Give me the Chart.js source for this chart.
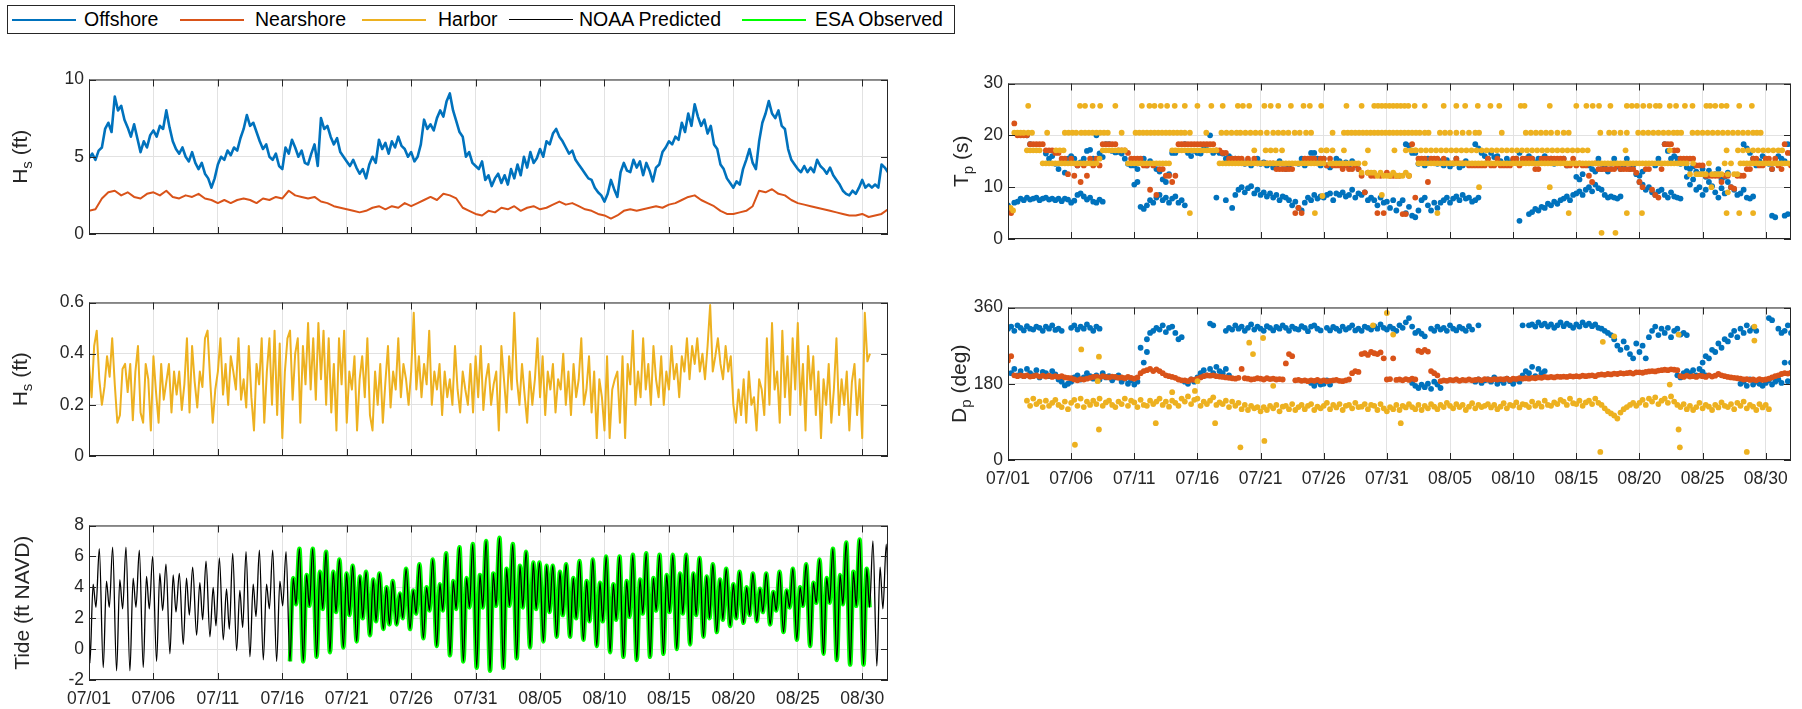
<!DOCTYPE html>
<html>
<head>
<meta charset="utf-8">
<title>Wave and tide record</title>
<script src="https://cdn.jsdelivr.net/npm/chart.js@4.4.1/dist/chart.umd.min.js"></script>
<style>
  html, body { margin: 0; padding: 0; background: #fff; }
  body { width: 1802px; height: 709px; position: relative; overflow: hidden; font-family: "Liberation Sans", Arial, sans-serif; }
  canvas { position: absolute; }
  #legend-box { position: absolute; left: 7px; top: 5px; width: 948px; height: 29px; border: 1px solid #262626; box-sizing: border-box; }
  .lg-line { position: absolute; top: 19px; width: 64px; height: 0; }
  .lg-text { position: absolute; top: 8px; font-size: 19.5px; line-height: 22px; color: #000; white-space: nowrap; }
</style>
</head>
<body>
<div id="legend-box"></div>
<div class="lg-line" style="left:12px;border-top:2px solid #0072BD"></div><div class="lg-text" style="left:84px">Offshore</div>
<div class="lg-line" style="left:180px;border-top:2px solid #D95319"></div><div class="lg-text" style="left:255px">Nearshore</div>
<div class="lg-line" style="left:362px;border-top:2px solid #EDB120"></div><div class="lg-text" style="left:438px">Harbor</div>
<div class="lg-line" style="left:509px;border-top:1px solid #000"></div><div class="lg-text" style="left:579px">NOAA Predicted</div>
<div class="lg-line" style="left:742px;border-top:2px solid #00FF00"></div><div class="lg-text" style="left:815px">ESA Observed</div>

<canvas id="hsChart"></canvas>
<canvas id="harborChart"></canvas>
<canvas id="tideChart"></canvas>
<canvas id="tpChart"></canvas>
<canvas id="dpChart"></canvas>

<script>
// ---- time axis (days since 07/01 00:00) ----
const dayMax = 62;
const tickDays = [0, 5, 10, 15, 20, 25, 30, 35, 40, 45, 50, 55, 60];
const tickLabels = ["07/01","07/06","07/11","07/16","07/21","07/26","07/31","08/05","08/10","08/15","08/20","08/25","08/30"];

// ---- significant wave height (ft) ----
const hsStep = 0.25;
const offshoreHs = [4.9,5.2,4.8,5.4, 5.6,6.8,7.2,6.6, 8.9,8.0,8.3,7.4, 6.9,6.3,7.1,6.2, 5.3,6.0,5.6,6.4,
  6.7,6.3,7.0,6.8, 8.0,6.9,6.0,5.5, 5.2,5.6,5.0,4.7, 5.3,4.6,4.2,4.6, 3.9,3.6,3.0,3.6,
  4.5,5.0,4.8,5.4, 5.1,5.6,5.4,6.2, 6.8,7.7,7.0,7.2, 6.6,6.0,5.5,5.8, 5.0,4.8,5.2,4.4,
  4.2,5.6,5.2,6.1, 5.6,5.0,5.4,4.6, 4.5,5.2,5.8,4.4, 7.5,6.8,7.0,6.3, 5.8,6.2,5.3,5.0,
  4.7,4.4,4.8,4.3, 3.9,4.2,3.6,4.5, 5.0,4.6,6.1,5.5, 5.9,5.2,6.0,5.6, 6.3,5.7,5.5,5.0,
  5.3,4.7,5.0,5.8, 7.4,6.8,7.1,6.7, 7.5,8.0,7.6,8.6, 9.1,8.0,7.3,6.6, 6.3,5.0,5.3,4.6,
  4.4,4.2,4.7,3.5, 3.8,3.1,3.6,3.9, 3.3,3.8,3.2,4.2, 3.6,4.5,3.8,5.0, 4.3,5.3,4.6,4.9,
  5.5,5.0,6.0,5.8, 6.5,6.8,6.3,6.0, 5.6,5.2,5.4,4.8, 4.5,4.2,3.9,3.6, 3.5,3.0,2.7,2.5,
  2.1,2.6,3.5,2.9, 2.4,4.0,4.6,4.1, 4.0,4.8,4.3,4.7, 3.8,4.6,4.1,3.4, 4.3,4.5,5.3,5.6,
  6.0,5.8,6.3,6.1, 7.2,6.6,7.8,7.0, 8.4,7.6,7.0,7.4, 6.5,7.0,5.8,5.5, 4.5,4.2,3.6,3.3,
  3.0,3.4,3.2,4.2, 4.8,5.5,4.6,4.2, 6.0,7.2,7.8,8.6, 7.8,7.5,8.0,7.0, 6.8,5.5,4.8,4.5,
  4.2,4.0,4.4,4.0, 4.3,4.0,4.8,4.4, 4.2,3.9,4.3,3.8, 3.5,3.2,2.8,2.6, 2.5,2.8,2.6,3.0,
  3.5,3.0,3.2,3.0, 3.2,3.0,4.5,4.3, 4.0];

const nearStep = 0.5;
const nearshoreHs = [1.5,1.6, 2.3,2.7, 2.8,2.5, 2.7,2.4, 2.3,2.6, 2.7,2.5, 2.8,2.4, 2.3,2.5, 2.4,2.6, 2.3,2.2,
  2.0,2.2, 2.0,2.2, 2.3,2.2, 2.0,2.3, 2.2,2.4, 2.3,2.8, 2.5,2.4, 2.3,2.4, 2.1,2.0, 1.8,1.7,
  1.6,1.5, 1.4,1.5, 1.7,1.8, 1.6,1.8, 1.7,2.0, 1.8,2.0, 2.2,2.4, 2.2,2.6, 2.5,2.3, 1.7,1.5,
  1.3,1.2, 1.5,1.4, 1.7,1.6, 1.8,1.5, 1.7,1.8, 1.6,1.7, 1.9,2.1, 1.9,2.0, 1.8,1.6, 1.5,1.3,
  1.2,1.0, 1.2,1.5, 1.6,1.5, 1.6,1.7, 1.8,1.7, 1.9,2.0, 2.2,2.4, 2.5,2.2, 2.0,1.8, 1.5,1.3,
  1.3,1.4, 1.5,1.8, 2.8,2.7, 2.9,2.6, 2.5,2.2, 2.0,1.9, 1.8,1.7, 1.6,1.5, 1.4,1.3, 1.2,1.2,
  1.3,1.1, 1.2,1.3, 1.6];

const harborStep = 0.2;
const harborHs = [.36,.23,.43,.49,.30, .20,.27,.39,.31,.46, .28,.13,.16,.34,.36, .25,.36,.14,.33,.43, .17,.13,.36,.30,.10,
  .39,.25,.13,.36,.22, .29,.36,.17,.33,.24, .33,.18,.28,.46,.17, .43,.29,.19,.33,.27, .46,.49,.30,.13,.26,
  .33,.46,.24,.36,.20, .39,.33,.26,.46,.22, .30,.19,.43,.23,.10, .36,.28,.46,.13,.33, .46,.20,.49,.16,.44,
  .07,.33,.46,.49,.22, .40,.46,.13,.43,.28, .52,.26,.46,.22,.52, .30,.49,.20,.46,.17, .36,.10,.46,.28,.49,
  .13,.33,.26,.39,.10, .30,.39,.23,.46,.16, .10,.33,.20,.36,.13, .29,.43,.19,.33,.26, .46,.23,.36,.30,.20,
  .33,.56,.26,.39,.23, .36,.28,.49,.20,.33, .26,.36,.16,.33,.23, .30,.20,.43,.26,.17, .33,.26,.20,.36,.17,
  .39,.23,.43,.18,.30, .36,.20,.28,.33,.10, .43,.30,.17,.39,.26, .56,.30,.20,.36,.24, .13,.33,.20,.30,.46,
  .23,.39,.16,.33,.26, .36,.17,.30,.26,.40, .20,.33,.16,.36,.23, .30,.46,.20,.26,.39, .17,.33,.07,.30,.23,
  .10,.39,.07,.26,.30, .33,.13,.39,.07,.36, .28,.49,.20,.33,.23, .46,.26,.36,.20,.43, .30,.23,.39,.20,.33,
  .26,.43,.30,.36,.23, .39,.33,.46,.30,.43, .36,.46,.33,.40,.30, .43,.59,.33,.39,.46, .36,.30,.43,.33,.39,
  .20,.13,.26,.16,.30, .13,.33,.20,.23,.10, .30,.26,.16,.46,.20, .52,.26,.33,.13,.49, .23,.39,.16,.46,.26,
  .52,.20,.36,.10,.43, .26,.39,.16,.33,.07, .30,.20,.36,.13,.26, .46,.16,.30,.20,.33, .10,.29,.36,.16,.30,
  .07,.56,.37,.40];

// ---- tide (ft NAVD): extremes per tidal day ----
const tidalDay = 1.035;
const tideOffsets = [0.07, 0.32, 0.54, 0.80];   // LL, LH, HL, HH within a tidal day
const tideStart = 2.7;
const tideLL = [-0.9,-1.2,-1.4,-1.4,-1.2,-0.8,-0.3,0.3,0.9,0.8, 0.6,-0.1,-0.5,-0.7,-0.8,-0.8,-0.8,-0.5,-0.2,0.1,
  0.5,0.9,1.3,1.6,1.3,0.7,0.2,-0.4,-0.8,-1.2, -1.4,-1.2,-0.6,0.1,0.5,0.8,0.8,0.6,0.2,-0.2,
  -0.5,-0.7,-0.5,-0.3,0.0,0.3,0.8,1.1,1.5,1.7, 1.8,1.6,1.1,0.6,0.2,-0.3,-0.7,-1.0,-1.0,-1.1, -0.6];
const tideLH = [4.2,4.4,4.5,4.6,4.7,4.9,4.8,4.6,4.3,4.0, 3.9,3.8,4.2,4.2,4.4,4.6,4.8,5.0,5.0,4.9,
  4.7,4.5,4.0,3.6,3.8,4.0,4.2,4.4,4.6,4.8, 4.9,5.2,5.4,5.6,5.4,5.0,4.6,4.4,4.3,4.2,
  4.4,4.5,4.6,4.8,4.9,4.9,4.7,4.5,4.2,4.0, 3.9,3.7,3.8,4.0,4.3,4.6,4.8,5.0,5.2,5.3, 5.4];
const tideHL = [2.7,2.7,2.6,2.7,2.6,2.5,2.4,2.2,1.9,1.5, 1.3,1.4,2.1,2.6,2.8,2.9,2.8,2.6,2.4,2.2,
  2.0,1.8,1.6,2.0,2.3,2.5,2.5,2.6,2.7,2.7, 2.8,2.8,2.7,2.6,2.4,2.2,2.0,1.8,1.8,1.9,
  2.1,2.3,2.5,2.4,2.3,2.2,2.0,1.9,2.0,2.2, 2.4,2.5,2.7,2.8,3.0,3.0,2.9,2.8,2.7,2.6, 2.5];
const tideHH = [6.5,6.6,6.6,6.4,6.0,5.5,4.9,5.3,5.7,5.9, 6.2,6.3,6.4,6.4,6.3,6.5,6.5,6.3,5.8,5.4,
  5.0,4.9,4.4,5.2,5.5,5.8,6.2,6.6,6.8,7.0, 7.2,6.8,6.3,5.6,5.4,5.5,5.7,5.8,6.0,6.0,
  6.1,6.2,6.1,6.1,6.1,5.9,5.5,5.2,5.0,4.9, 4.9,5.0,5.2,5.5,5.8,6.5,6.9,7.1,7.0,6.8, 6.5];
const obsStart = 15.3, obsEnd = 60.75;   // ESA record span

// ---- peak period Tp (s) and direction Dp (deg), 4 per day ----
const scatStep = 0.25;
const offTpSea = [6.5,5.5,7.0,7.2, 7.8,7.5,8.0,7.6, 7.8,8.0,7.5,7.8, 8.0,7.6,7.8,7.5, 7.8,7.3,7.8,7.6,
  7.0,7.4,8.5,8.8, 8.2,7.6,8.0,7.2, 7.0,7.6,7.2,null, null,null,null,null, null,null,null,null,
  10.5,11.0,6.2,5.8, 6.5,7.5,7.0,8.0, 8.5,7.5,8.0,7.0, 7.8,8.2,7.0,7.5, 6.5,null,null,null,
  null,null,null,null, null,null,8.0,null, null,7.5,null,6.0, 8.5,9.5,10.0,9.0, 9.8,10.2,8.8,9.5,
  8.5,9.0,8.2,8.8, 8.0,8.5,7.5,8.2, 8.0,7.5,6.5,7.2, 6.0,5.5,7.0,8.0, 7.5,8.5,7.8,8.2,
  8.0,8.5,8.8,7.5, 8.8,8.5,9.0,8.2, 8.5,9.5,8.0,8.8, 8.5,9.0,7.5,8.0, 7.5,6.5,8.0,7.0,
  7.2,6.0,7.5,5.5, 6.8,7.5,5.0,6.2, 4.5,4.2,5.5,7.5, 8.0,6.5,5.5,7.0, 6.0,7.0,7.5,8.0,
  7.0,7.8,8.2,7.5, 8.5,7.8,8.0,7.2, 7.5,8.0,null,null, null,null,null,null, null,null,null,null,
  null,null,3.5,null, null,4.8,5.2,5.8, 5.5,6.2,6.0,6.8, 6.5,7.2,6.8,7.5, 7.8,8.2,7.5,8.5,
  8.8,9.2,8.5,9.5, 10.0,9.2,10.5,9.8, 9.5,8.5,8.0,8.2, 8.0,7.8,8.2,null, null,null,null,null,
  11.0,10.5,9.5,10.0, 9.0,8.5,9.2,9.5, 8.5,8.0,9.0,8.2, 8.0,7.8,null,12.0, 10.5,11.5,9.5,10.0,
  8.5,9.5,11.0,10.2, 9.0,8.0,9.8,8.8, 11.0,10.0,9.5,8.5, 8.8,9.5,8.0,7.8, 8.2,null,null,null,
  null,null,4.5,4.2, null,null,4.5,4.8, null];
const offTpSwell = [null,null,null,null, null,null,20.0,18.3, null,null,null,null, 16.5,15.5,16.0,14.5, 13.5,14.8,12.8,15.5,
  16.0,15.5,14.2,14.8, 15.5,17.0,17.2,15.5, 20.0,16.5,15.8,18.3, 18.3,17.0,16.7,16.8, 16.5,15.5,14.5,14.2,
  14.2,13.5,14.8,15.5, 14.2,15.0,14.5,13.5, 13.0,11.5,11.0,12.5, 16.6,16.6,null,null, 18.3,16.6,16.0,17.0,
  16.6,16.5,18.0,17.2, 20.0,16.6,17.0,16.6, 16.5,15.5,16.0,15.5, 15.5,14.8,15.2,14.5, 15.0,14.2,14.8,15.5,
  14.5,14.8,14.2,14.5, 13.8,14.2,15.0,14.5, 13.5,14.0,null,null, 14.5,15.5,14.2,15.0, 16.6,16.6,15.5,14.2,
  15.5,14.2,13.8,14.5, 15.5,15.0,14.2,14.8, 14.2,15.0,14.5,13.5, null,null,null,null, null,null,null,null,
  null,null,null,null, null,null,18.3,18.0, 16.6,16.6,14.5,15.0, 14.2,15.5,14.8,15.0, 14.5,15.0,14.2,15.2,
  14.0,14.5,15.5,13.8, 14.2,15.0,null,null, 18.3,17.5,16.6,16.0, 15.5,16.6,15.8,16.0, 15.0,14.5,15.5,14.8,
  15.2,15.5,16.6,15.0, 15.5,16.0,15.5,14.8, 15.5,15.0,16.0,15.2, 15.5,14.5,15.0,null, 15.5,14.2,null,null,
  12.0,11.5,12.5,null, 14.2,13.5,13.0,15.5, 13.5,14.2,13.0,14.5, 15.5,14.0,13.5,14.2, 15.5,13.5,14.2,12.5,
  12.2,13.0,null,null, null,14.2,15.5,null, 18.3,17.0,15.5,16.0, 15.5,14.5,15.0,13.8, 13.5,14.0,13.0,12.5,
  13.5,12.0,13.2,null, 12.5,13.5,11.5,12.0, 12.8,null,null,null, null,18.3,17.5,16.6, 15.5,14.2,15.0,16.0,
  15.5,14.5,13.5,14.8, 16.0,15.5,15.0,18.3, 16.6];
const nearTp = [6.0,5.0,22.3,20.0, 20.0,20.0,20.0,18.3, 18.3,18.3,18.3,18.3, 17.1,17.1,17.1,16.6, 16.6,15.5,15.5,12.5,
  15.5,12.2,14.2,11.0, 14.2,12.2,15.5,14.2, 15.5,14.2,18.3,18.3, 18.3,18.3,18.3,17.1, 17.1,17.1,16.6,15.5,
  15.5,15.5,15.5,14.2, 14.2,9.5,14.2,8.5, 13.5,13.5,12.2,12.2, 11.0,12.2,18.3,18.3, 18.3,18.3,18.3,18.3,
  18.3,18.3,18.3,18.3, 18.3,18.3,17.1,17.1, 16.6,16.6,15.5,15.5, 15.5,15.5,15.5,14.6, 15.5,14.6,15.5,14.6,
  14.6,14.6,14.6,14.6, 14.6,13.5,13.5,13.5, 13.5,13.5,13.5,5.0, 6.0,5.0,15.5,15.5, 15.5,15.5,14.6,15.5,
  15.5,14.2,15.5,14.2, 14.2,14.2,13.5,14.2, 13.5,13.5,14.2,13.5, 12.2,9.0,12.8,12.2, 12.2,5.0,12.2,5.0,
  12.8,12.2,12.2,12.2, 12.2,4.8,4.8,12.2, 18.3,8.0,15.5,15.5, 15.5,11.0,15.5,15.5, 15.5,14.6,15.5,14.6,
  14.6,14.6,15.5,14.6, 14.6,14.6,14.2,14.2, 14.2,14.2,14.2,14.2, 15.5,14.2,14.2,15.5, 14.2,14.2,14.2,14.2,
  15.5,15.5,14.2,15.5, 15.5,15.5,15.5,13.5, 13.5,15.5,15.5,15.5, 15.5,15.5,15.5,15.5, 15.5,14.2,14.2,15.5,
  14.2,14.6,14.2,14.2, 12.2,11.0,14.6,13.5, 13.5,13.5,13.5,13.5, 13.5,14.2,13.5,13.5, 13.5,13.5,13.5,12.8,
  11.0,10.0,13.5,13.5, 9.5,8.5,8.0,13.5, 18.3,18.3,18.3,17.1, 17.1,15.5,15.5,15.5, 15.5,15.5,14.2,14.2,
  14.2,12.2,12.2,12.2, 12.2,12.2,11.0,12.2, 12.2,10.0,9.7,12.2, 12.2,12.2,13.5,13.5, 15.5,15.5,14.2,14.2,
  15.5,15.5,13.5,15.5, 14.2,13.5,18.3,16.6, 14.2];
const harborTp = [null,null,20.5,20.5, 20.5,20.5,17.1,17.1, 17.1,17.1,17.1,14.6, 14.6,14.6,14.6,14.6, 14.6,14.6,14.6,14.6,
  14.6,14.6,14.6,14.6, 14.6,14.6,14.6,14.6, 14.6,15.5,17.1,17.1, 17.1,17.1,17.1,17.1, 17.1,17.1,14.6,14.6,
  14.6,14.6,14.6,14.6, 14.6,14.6,14.6,14.6, 14.6,14.6,14.6,14.6, 17.1,17.1,17.1,17.1, 17.1,17.1,17.1,17.1,
  17.1,17.1,17.1,17.1, 17.1,17.1,17.1,14.6, 14.6,14.6,14.6,14.6, 14.6,14.6,14.6,14.6, 14.6,14.6,14.6,14.6,
  14.6,14.6,14.6,14.6, 14.6,14.6,14.6,14.6, 14.6,14.6,14.6,14.6, 14.6,14.6,14.6,14.6, 14.6,14.6,14.6,14.6,
  14.6,17.1,14.6,14.6, 14.6,14.6,14.6,14.6, 14.6,14.6,14.6,14.6, 12.8,14.6,12.8,12.8, 12.8,12.2,12.8,12.2,
  12.2,12.2,12.8,12.2, 12.2,12.2,12.8,12.2, 17.1,17.1,14.6,14.6, 14.6,14.6,14.6,14.6, 14.6,14.6,14.6,14.6,
  14.6,14.6,14.6,14.6, 14.6,14.6,14.6,14.6, 14.6,14.6,14.6,14.6, 14.6,14.6,14.6,14.6, 14.6,14.6,14.6,14.6,
  14.6,14.6,14.6,14.6, 14.6,14.6,14.6,14.6, 14.6,14.6,14.6,14.6, 14.6,14.6,14.6,14.6, 14.6,14.6,14.6,14.6,
  14.6,14.6,14.6,14.6, 14.6,14.6,14.6,14.6, 14.6,14.6,14.6,14.6, 14.6,14.6,14.6,14.6, 14.6,14.6,14.6,14.6,
  14.6,14.6,14.6,14.6, 14.6,14.6,14.6,14.6, 14.6,14.6,14.6,14.6, 14.6,14.6,14.6,14.6, 12.5,14.6,12.5,12.5,
  12.5,12.5,14.6,12.5, 12.5,12.5,12.5,14.6, 12.5,14.6,12.5,12.5, 14.6,14.6,14.6,14.6, 14.6,14.6,14.6,14.6,
  14.6,14.6,14.6,14.6, 14.6,14.6,14.6,14.6, 14.6];
// harbor Tp rows at fixed bins: days where a dot sits on each level
const harborTpLevels = [25.7, 20.5, 17.1];
const harborTpRow26 = [1.6,5.7,6.1,6.7,7.3,8.5,10.6,11.2,11.6,12.1,12.6,13.2,14.0,15.0,16.1,17.0,18.2,18.6,19.1,20.3,20.8,21.4,
  22.4,23.4,23.9,24.8,26.8,28.0,29.0,29.3,29.6,29.9,30.2,30.5,30.8,31.1,31.4,31.7,32.2,33.0,34.5,35.5,36.2,37.2,38.2,38.9,
  40.6,40.9,42.9,45.0,45.8,46.3,46.8,47.7,49.0,49.4,49.8,50.3,50.8,51.3,51.6,52.4,52.9,53.6,54.2,55.3,55.6,56.0,56.5,56.9,57.9,58.9];
const harborTpRow20 = [1.6,1.9,3.1,4.5,4.8,5.1,5.4,5.8,6.1,6.4,6.7,7.0,7.3,7.6,7.9,9.0,10.1,10.4,10.7,11.0,11.3,11.6,11.9,12.2,
  12.5,12.8,13.1,13.4,13.7,14.0,14.4,15.7,16.9,17.3,17.7,18.1,18.4,18.8,19.2,19.6,20.0,20.5,21.0,21.4,21.8,22.2,22.7,23.1,
  23.6,24.0,25.7,26.6,26.9,27.2,27.5,27.8,28.1,28.4,28.7,29.0,29.3,29.6,29.9,30.2,30.5,30.8,31.1,31.4,31.7,32.0,32.3,32.6,
  33.0,33.3,34.2,34.6,35.0,35.5,36.0,36.5,37.0,37.3,39.1,41.0,41.4,41.8,42.2,42.6,43.0,43.5,44.0,44.4,46.9,47.6,48.0,48.5,
  49.0,49.9,50.3,50.7,51.1,51.5,51.9,52.3,52.7,53.0,53.3,54.2,54.6,55.0,55.4,55.8,56.2,56.6,57.0,57.4,57.8,58.2,58.6,59.0,59.3,59.6];
const harborTpRow17 = [3.8,4.1,4.4,19.5,20.4,20.8,21.2,21.7,24.8,25.2,25.7,26.6,28.5,30.6,31.5,31.9,32.3,32.7,33.1,33.5,33.9,34.3,
  34.7,35.1,35.5,35.9,36.3,36.7,37.1,37.5,37.9,38.3,38.7,39.1,39.5,39.9,40.3,40.7,41.1,41.5,41.9,42.3,42.7,43.1,43.5,43.9,
  44.3,44.7,45.1,45.5,45.9,48.9,52.4,56.9,57.8,58.2,58.6,59.0,59.4,59.8,60.2,60.6,61.0,61.3];
const harborTpOdd = [[14.4,5.0],[24.3,5.0],[34.0,5.0],[44.4,5.0],[49.0,5.0],[50.2,5.0],[56.9,5.0],[57.9,5.0],[59.0,5.0],
  [47.0,1.2],[48.1,1.2],[37.3,10.0],[42.9,10.0],[24.9,8.3],[29.6,8.5],[55.7,10.0],[57.0,9.0],[0.2,6.0],[0.4,5.5]];

const offDpUp = [310,315,305,318, 312,306,316,310, 308,315,312,305, 315,310,318,307, 310,305,null,null,
  312,318,308,315, 310,320,312,305, 315,310,null,null, null,null,null,null, null,null,null,null,
  null,null,null,null, 285,300,305,312, 308,318,302,312, 315,300,285,290, null,null,null,null,
  null,null,null,null, 322,318,null,null, null,305,312,308, 318,310,315,305, 312,320,308,315,
  310,305,316,312, 306,314,310,318, 312,305,315,310, 308,316,312,304, 315,318,310,306,
  null,312,306,314, 310,305,315,308, 312,318,306,310, 305,315,312,308, 316,310,320,312,
  308,315,310,305, 318,312,325,335, 315,300,305,298, 292,null,310,305, 315,308,312,305,
  318,310,306,314, 310,305,316,308, null,318,null,null, null,null,null,null, null,null,null,null,
  null,null,null,318, null,318,320,315, 325,318,322,315, 320,312,318,325, 316,322,318,312,
  320,315,325,318, 322,316,320,312, 310,305,300,295, 285,270,260,280, 265,250,240,275,
  255,270,240,290, 305,315,295,310, 300,312,290,305, 310,296,300,295, null,null,null,null,
  230,245,240,260, 255,275,265,285, 280,295,305,290, 310,300,318,305, 312,305,null,null,
  null,335,330,null, 310,300,305,318, 300];
const offDpLow = [null,205,215,200, 210,198,215,205, 200,212,195,208, 205,198,210,202, 190,185,176,180,
  185,195,200,190, 195,205,198,192, 200,190,205,195, 198,188,195,200, 185,192,180,188,
  178,185,265,230, 255,null,null,null, null,null,null,null, null,null,null,null, 185,180,190,185,
  195,205,212,200, 215,205,220,210, 205,215,200,null, null,null,null,null, null,null,null,null,
  null,null,null,null, null,null,null,null, null,null,null,null, null,null,null,null, 182,175,185,178,
  180,188,178,null, null,null,null,null, null,null,null,null, null,null,null,null, null,null,null,null,
  null,null,null,null, null,null,null,null, 182,175,170,178, 172,180,168,185, 178,170,null,null,
  null,null,null,null, null,null,null,null, 185,190,182,188, 190,185,195,180, 188,182,192,186,
  180,190,185,200, 210,205,220,198, 215,205,210,null, null,null,null,null, null,null,null,null,
  null,null,null,null, null,null,null,null, null,null,null,null, null,null,null,null, null,null,null,null,
  null,null,null,null, null,null,null,null, null,null,null,null, 200,195,205,210, 205,212,200,215,
  208,200,null,null, null,null,null,null, null,null,null,null, 180,185,175,190, 178,185,180,175,
  182,188,178,185, 190,182,230,186, 230];
const nearDp = [235,245,200,198, 200,198,200,197, 198,200,197,199, 197,199,196,198, 196,198,195,194,
  193,190,188,191, 190,192,194,196, 197,195,198,196, 195,197,196,194, 195,193,196,194,
  192,195,205,210, 212,215,210,214, 210,205,200,198, 196,194,190,188, 188,186,190,189,
  192,195,198,200, 199,200,198,197, 196,195,194,193, 192,194,215,193, 192,190,191,193,
  192,190,193,191, 192,190,191,190, 228,250,245,188, 189,187,188,186, 188,187,189,186,
  188,186,187,188, 189,187,186,188, 190,205,210,208, 250,252,248,255, 252,250,254,240,
  190,191,240,189, 190,188,191,189, 192,190,258,255, 260,256,210,205, 200,186,188,187,
  189,188,190,187, 189,188,190,188, 189,190,188,191, 190,189,191,190, 191,190,192,189,
  192,191,193,192, 193,192,194,193, 195,194,196,195, 196,195,197,196, 197,196,198,197,
  198,197,199,198, 199,200,198,201, 202,201,203,202, 204,203,205,204, 205,206,204,207,
  207,206,208,209, 210,209,211,212, 213,212,214,213, 212,198,196,199, 197,198,196,199,
  198,196,200,197, 199,203,200,198, 196,195,194,193, 192,190,191,189, 190,188,191,189,
  190,192,195,198, 200,203,205,204, 206];
const harborDp = [null,null,null,null, null,null,140,128, 145,132,138,125, 140,128,135,142, 130,125,138,120,
  135,142,128,145, 125,138,130,140, 132,145,128,136, 140,130,125,138, 132,145,128,140,
  136,125,142,130, 128,140,132,138, 145,130,138,126, 140,135,128,145, 138,150,132,142,
  145,128,138,132, 140,148,130,136, 132,140,125,138, 128,135,120,130, 118,128,122,125,
  115,125,118,128, 122,130,115,126, 128,120,132,118, 125,130,120,128, 132,118,126,122,
  128,135,120,130, 124,132,118,128, 130,122,135,125, 126,132,120,130, 128,118,132,122,
  115,125,120,130, 118,128,124,132, 125,120,130,118, 128,122,132,126, 120,130,125,135,
  128,122,132,125, 130,118,126,134, 122,130,125,128, 132,124,130,120, 126,134,122,130,
  128,136,124,132, 130,125,138,128, 134,126,140,130, 128,136,132,142, 138,130,145,134,
  132,140,128,136, 140,132,145,135, 130,122,115,110, 105,98,112,120, 125,130,135,128,
  135,142,130,145, 138,148,132,140, 145,135,150,138, 130,125,132,120, 128,118,125,135,
  122,130,126,118, 130,124,136,128, 125,132,120,135, 128,138,122,130, 126,118,132,124,
  130,120,null,null, null,null,null,null, null];
const harborDpOdd = [[5.3,36],[5.8,261],[7.2,244],[7.2,72],[7.1,186],[14.8,163],[15.0,186],[16.4,87],[18.4,30],[19.1,277],
  [19.4,250],[20.2,288],[20.3,45],[28.9,318],[30.0,347],[30.5,296],[31.1,87],[46.9,19],[47.1,279],[48.0,292],
  [52.4,178],[53.1,72],[53.1,296],[53.2,30],[58.5,19],[59.1,315],[59.1,282],[11.7,87],[13.0,160],[21.0,175]];

// ---- tick values ----
const hsTicks = [0, 5, 10];
const harborTicks = [0, 0.2, 0.4, 0.6];
const tideTicks = [-2, 0, 2, 4, 6, 8];
const tpTicks = [0, 10, 20, 30];
const dpTicks = [0, 180, 360];

const OFF = "#0072BD", NEAR = "#D95319", HARB = "#EDB120", NOAA = "#000000", ESA = "#00FF00";
const GRID = "#e2e2e2", AXIS = "#262626";
const FONT = '"Liberation Sans", Arial, sans-serif';

function regular(values, step) {
   let pts = [];
   values.forEach((v, i) => { if (v !== null) pts.push({ x: i * step, y: v }); });
   return pts;
}
function onDays(days, level) {
   return days.map(d => ({ x: d, y: level }));
}
function pairs(list) {
   return list.map(p => ({ x: p[0], y: p[1] }));
}

// tide curve through the extremes
let tidePts = [{ x: 0, y: tideStart }];
for (let k = 0; k < tideHH.length; k++) {
   const t = k * tidalDay;
   tidePts.push({ x: t + tideOffsets[0], y: tideLL[k] });
   tidePts.push({ x: t + tideOffsets[1], y: tideLH[k] });
   tidePts.push({ x: t + tideOffsets[2], y: tideHL[k] });
   tidePts.push({ x: t + tideOffsets[3], y: tideHH[k] });
}
const obsPts = tidePts.filter(p => p.x >= obsStart && p.x <= obsEnd);

// box with inward ticks, MATLAB style
const boxPlugin = {
   id: "axesBox",
   afterDatasetsDraw(chart) {
      const ctx = chart.ctx, a = chart.chartArea;
      const xs = chart.scales.x, ys = chart.scales.y;
      const tl = 7;
      ctx.save();
      ctx.strokeStyle = AXIS;
      ctx.lineWidth = 1;
      ctx.strokeRect(a.left + 0.5, a.top + 0.5, a.right - a.left - 1, a.bottom - a.top - 1);
      ctx.beginPath();
      xs.ticks.forEach(t => {
         const px = Math.round(xs.getPixelForValue(t.value)) + 0.5;
         ctx.moveTo(px, a.bottom); ctx.lineTo(px, a.bottom - tl);
         ctx.moveTo(px, a.top); ctx.lineTo(px, a.top + tl);
      });
      ys.ticks.forEach(t => {
         const py = Math.round(ys.getPixelForValue(t.value)) + 0.5;
         ctx.moveTo(a.left, py); ctx.lineTo(a.left + tl, py);
         ctx.moveTo(a.right, py); ctx.lineTo(a.right - tl, py);
      });
      ctx.stroke();
      ctx.restore();
   }
};

// y label with an optional subscript
const titlePlugin = {
   id: "yTitle",
   afterDraw(chart, args, opts) {
      const ctx = chart.ctx, a = chart.chartArea;
      const size = 21;
      const mainFont = size + "px " + FONT, subFont = (size * 0.72) + "px " + FONT;
      ctx.save();
      ctx.fillStyle = AXIS;
      ctx.textBaseline = "alphabetic";
      ctx.font = mainFont;
      const w1 = ctx.measureText(opts.main).width;
      const w3 = ctx.measureText(opts.rest).width;
      ctx.font = subFont;
      const w2 = opts.sub ? ctx.measureText(opts.sub).width : 0;
      ctx.translate(opts.x, (a.top + a.bottom) / 2);
      ctx.rotate(-Math.PI / 2);
      let x = -(w1 + w2 + w3) / 2;
      ctx.font = mainFont;
      ctx.fillText(opts.main, x, 0);
      x += w1;
      if (opts.sub) {
         ctx.font = subFont;
         ctx.fillText(opts.sub, x, 5);
         x += w2;
      }
      ctx.font = mainFont;
      ctx.fillText(opts.rest, x, 0);
      ctx.restore();
   }
};

function makePanel(id, box, type, datasets, yMin, yMax, yTicks, title, showDates) {
   const cv = document.getElementById(id);
   cv.style.left = (box.x - box.padLeft) + "px";
   cv.style.top = (box.y - 10) + "px";
   cv.width = box.w + box.padLeft + 12;
   cv.height = box.h + 10 + 34;
   title.x = title.pageX - (box.x - box.padLeft);
   new Chart(cv, {
      type: type,
      data: { datasets: datasets },
      options: {
         responsive: false,
         animation: false,
         events: [],
         layout: { padding: { top: 10, right: 12, left: 0, bottom: 0 } },
         plugins: { legend: { display: false }, tooltip: { enabled: false }, yTitle: title },
         scales: {
            x: {
               type: "linear", min: 0, max: dayMax,
               afterBuildTicks: s => { s.ticks = tickDays.map(v => ({ value: v })); },
               afterFit: s => { s.height = 34; },
               grid: { color: GRID, drawTicks: false },
               border: { display: false },
               ticks: {
                  display: showDates, autoSkip: false, maxRotation: 0, padding: 9,
                  color: AXIS, font: { family: FONT, size: 17.5 },
                  callback: (v, i) => tickLabels[i]
               }
            },
            y: {
               type: "linear", min: yMin, max: yMax,
               afterBuildTicks: s => { s.ticks = yTicks.map(v => ({ value: v })); },
               afterFit: s => { s.width = box.padLeft; },
               grid: { color: GRID, drawTicks: false },
               border: { display: false },
               ticks: {
                  padding: 5, color: AXIS, font: { family: FONT, size: 17.5 },
                  callback: v => String(v)
               }
            }
         }
      },
      plugins: [boxPlugin, titlePlugin]
   });
}

function lineSet(data, color, width, order) {
   return { data: data, borderColor: color, borderWidth: width, pointRadius: 0, tension: 0,
            borderJoinStyle: "round", fill: false, order: order };
}
function dotSet(data, color, order) {
   return { data: data, backgroundColor: color, borderWidth: 0, pointRadius: 2.9, order: order };
}

document.addEventListener("DOMContentLoaded", function () {
   makePanel("hsChart", { x: 89, y: 74, w: 799, h: 160, padLeft: 89 }, "line", [
      lineSet(regular(offshoreHs, hsStep), OFF, 2.6, 1),
      lineSet(regular(nearshoreHs, nearStep), NEAR, 2, 2)
   ], 0, 10, hsTicks, { main: "H", sub: "s", rest: " (ft)", pageX: 27 }, false);

   makePanel("harborChart", { x: 89, y: 297, w: 799, h: 159, padLeft: 89 }, "line", [
      lineSet(regular(harborHs, harborStep), HARB, 2, 1)
   ], 0, 0.6, harborTicks, { main: "H", sub: "s", rest: " (ft)", pageX: 27 }, false);

   let noaa = lineSet(tidePts, NOAA, 1.3, 1);
   noaa.cubicInterpolationMode = "monotone";
   let esa = lineSet(obsPts, ESA, 4.5, 2);
   esa.cubicInterpolationMode = "monotone";
   makePanel("tideChart", { x: 89, y: 520, w: 799, h: 160, padLeft: 89 }, "line", [noaa, esa],
      -2, 8, tideTicks, { main: "Tide (ft NAVD)", sub: "", rest: "", pageX: 29 }, true);

   makePanel("tpChart", { x: 1008, y: 78, w: 783, h: 161, padLeft: 100 }, "scatter", [
      dotSet(regular(offTpSea, scatStep), OFF, 3),
      dotSet(regular(offTpSwell, scatStep), OFF, 3),
      dotSet(regular(nearTp, scatStep), NEAR, 2),
      dotSet(regular(harborTp, scatStep), HARB, 1),
      dotSet(onDays(harborTpRow26, harborTpLevels[0]), HARB, 1),
      dotSet(onDays(harborTpRow20, harborTpLevels[1]), HARB, 1),
      dotSet(onDays(harborTpRow17, harborTpLevels[2]), HARB, 1),
      dotSet(pairs(harborTpOdd), HARB, 1)
   ], 0, 30, tpTicks, { main: "T", sub: "p", rest: " (s)", pageX: 968 }, false);

   makePanel("dpChart", { x: 1008, y: 302, w: 783, h: 158, padLeft: 100 }, "scatter", [
      dotSet(regular(offDpUp, scatStep), OFF, 3),
      dotSet(regular(offDpLow, scatStep), OFF, 3),
      dotSet(regular(nearDp, scatStep), NEAR, 2),
      dotSet(regular(harborDp, scatStep), HARB, 1),
      dotSet(pairs(harborDpOdd), HARB, 1)
   ], 0, 360, dpTicks, { main: "D", sub: "p", rest: " (deg)", pageX: 966 }, true);
});
</script>
</body>
</html>
